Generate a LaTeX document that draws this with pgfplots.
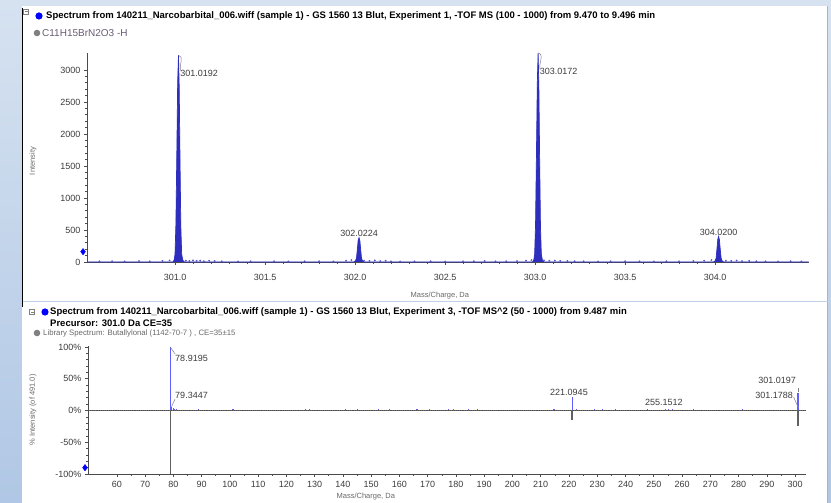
\documentclass[border=0pt]{standalone}
\usepackage{fontspec}
\setmainfont{Liberation Sans}
\usepackage{pgfplots}
\pgfplotsset{compat=1.18}
\definecolor{bgtop}{RGB}{214,226,240}
\definecolor{bgbot}{RGB}{176,199,229}
\definecolor{axgray}{RGB}{75,75,75}
\definecolor{pkblue}{RGB}{45,45,190}
\definecolor{stickblue}{RGB}{95,95,255}
\definecolor{lblgray}{RGB}{60,60,60}
\definecolor{formula}{RGB}{105,92,118}
\definecolor{libgray}{RGB}{105,105,105}
\newcommand\lblfont{\fontsize{9bp}{10bp}\selectfont}
\newcommand\hdfont{\fontsize{9.5bp}{10bp}\selectfont}
\pgfplotsset{
  msaxis/.style={
    scale only axis, clip=false,
    axis x line*=bottom, axis y line*=left,
    axis line style={axgray, line width=0.9bp},
    tick style={axgray, line width=0.6bp},
    tick align=outside,
    major tick length=3bp, minor tick length=2bp,
    /pgf/number format/assume math mode=true,
    /pgf/number format/1000 sep={},
    ticklabel style={font=\lblfont, text=lblgray},
    label style={font=\fontsize{7.5bp}{8bp}\selectfont, text=libgray},
  }
}
\begin{document}
\begin{tikzpicture}[x=1bp,y=1bp]
\useasboundingbox (0,0) rectangle (831,503);
\shade[top color=bgtop, bottom color=bgbot] (0,0) rectangle (831,503);
\fill[white] (22,202) rectangle (828,497);
\fill[white] (22,0) rectangle (828,200.5);
\draw[black, line width=0.8bp] (22.4,196) -- (22.4,495);
\draw[gray!60, line width=0.8bp] (827.6,202) -- (827.6,497);
\draw[gray!60, line width=0.8bp] (827.6,0) -- (827.6,200.5);
\draw[gray, line width=0.4bp] (23.5,489) rectangle (28.5,494); \draw[gray, line width=0.5bp] (24.5,491.5) -- (27.5,491.5);
\draw[gray, line width=0.4bp] (29.5,188.5) rectangle (34.5,193.5); \draw[gray, line width=0.5bp] (30.5,191) -- (33.5,191);
\fill[blue] (39,487) circle (3.6);
\node[anchor=west, inner sep=0, font=\hdfont\bfseries] at (46,487) {Spectrum from 140211\_Narcobarbital\_006.wiff (sample 1) - GS 1560 13 Blut, Experiment 1, -TOF MS (100 - 1000) from 9.470 to 9.496 min};
\fill[gray] (37,470) circle (3.3);
\node[anchor=west, inner sep=0, text=formula, font=\fontsize{10bp}{11bp}\selectfont] at (42,470) {C11H15BrN2O3 -H};
\fill[blue] (45,191) circle (3.6);
\node[anchor=west, inner sep=0, font=\hdfont\bfseries] at (50,191) {Spectrum from 140211\_Narcobarbital\_006.wiff (sample 1) - GS 1560 13 Blut, Experiment 3, -TOF MS\^{}2 (50 - 1000) from 9.487 min};
\node[anchor=west, inner sep=0, font=\hdfont\bfseries] at (50,180) {Precursor: 301.0 Da CE=35};
\fill[gray] (37,170) circle (3.3);
\node[anchor=west, inner sep=0, text=libgray, font=\fontsize{7.8bp}{9bp}\selectfont] at (43,170) {Library Spectrum: Butallylonal (1142-70-7 ) , CE=35±15};

\begin{axis}[msaxis,
  at={(87bp,241bp)}, anchor=south west,
  width=721.6bp, height=209bp,
  xmin=300.511, xmax=304.52, ymin=0, ymax=3265,
  xtick={301,301.5,302,302.5,303,303.5,304}, minor x tick num=4,
  ytick={0,500,1000,1500,2000,2500,3000}, minor y tick num=4,
  xticklabel style={/pgf/number format/fixed, /pgf/number format/fixed zerofill, /pgf/number format/precision=1, yshift=-6bp},
  xlabel={Mass/Charge, Da},
  xlabel style={at={(axis description cs:0.489,-0.163)}, anchor=center},
  ylabel={Intensity},
  ylabel style={at={(axis description cs:-0.075,0.483)}, anchor=center},
]
\addplot[pkblue, fill=pkblue, line width=0.7bp] table {
300.511 0
300.988 0
300.995 30
301.0 120
301.005 600
301.010 1700
301.0147 2800
301.0192 3230
301.0232 2750
301.0277 1600
301.0322 560
301.037 120
301.043 30
301.051 0
301.993 0
302.002 15
302.008 60
302.013 200
302.0175 340
302.0224 380
302.027 330
302.0315 190
302.036 60
302.042 15
302.050 0
302.986 0
302.993 30
302.998 120
303.003 600
303.008 1700
303.0127 2800
303.0172 3265
303.0212 2780
303.0257 1620
303.0302 570
303.035 120
303.041 30
303.049 0
303.991 0
304.000 15
304.006 60
304.011 210
304.0155 355
304.0200 400
304.0245 345
304.029 200
304.034 60
304.040 15
304.048 0
304.52 0
};
\addplot[only marks, mark=*, mark size=0.7bp, color=pkblue!80, mark options={draw=none}] table {
300.58 10
300.65 12
300.72 8
300.80 15
300.86 10
300.93 18
300.97 25
301.06 20
301.08 15
301.10 25
301.12 18
301.14 22
301.16 12
301.19 20
301.22 15
301.26 10
301.35 8
301.42 10
301.55 12
301.63 8
301.72 10
301.80 12
301.88 8
301.95 20
301.98 30
302.05 20
302.08 18
302.11 25
302.14 15
302.17 20
302.20 10
302.25 8
302.33 10
302.42 12
302.50 8
302.60 10
302.66 12
302.72 15
302.78 10
302.84 12
302.90 15
302.95 20
302.98 30
303.05 25
303.08 20
303.11 22
303.14 18
303.18 15
303.22 12
303.27 10
303.35 8
303.42 10
303.50 12
303.58 10
303.66 8
303.73 12
303.80 10
303.88 15
303.94 20
303.98 30
304.06 20
304.09 18
304.12 22
304.15 15
304.19 18
304.23 12
304.28 10
304.35 8
304.42 12
304.48 8
};
\addplot[only marks, mark=diamond*, mark size=3.2bp, color=blue] coordinates {(300.489,161)};
\draw[gray, line width=0.5bp] (axis cs:301.0192,3230) to[out=-10,in=100] (axis cs:301.029,2990);
\draw[gray, line width=0.5bp] (axis cs:303.0172,3265) to[out=-10,in=100] (axis cs:303.027,3010);
\node[anchor=west, inner sep=0, text=lblgray, font=\lblfont] at (axis cs:301.029,2950) {301.0192};
\node[anchor=west, inner sep=0, text=lblgray, font=\lblfont] at (axis cs:303.026,2970) {303.0172};
\node[anchor=south, inner sep=0, text=lblgray, font=\lblfont] at (axis cs:302.0224,395) {302.0224};
\node[anchor=south, inner sep=0, text=lblgray, font=\lblfont] at (axis cs:304.020,410) {304.0200};
\end{axis}

\begin{axis}[msaxis,
  at={(88bp,29bp)}, anchor=south west,
  width=717.8bp, height=128.3bp,
  xmin=49.8, xmax=303.8, ymin=-100, ymax=102,
  xtick={60,70,80,90,100,110,120,130,140,150,160,170,180,190,200,210,220,230,240,250,260,270,280,290,300}, minor x tick num=1,
  ytick={-100,-50,0,50,100}, minor y tick num=4,
  yticklabels={-100\%,-50\%,0\%,50\%,100\%},
  xticklabel style={yshift=-1bp},
  xlabel={Mass/Charge, Da},
  xlabel style={at={(axis description cs:0.387,-0.179)}, anchor=center},
  ylabel={\% Intensity (of 491.0)},
  ylabel style={at={(axis description cs:-0.0766,0.5)}, anchor=center},
]
\addplot[gray!85!black, line width=0.5bp] coordinates {(49.8,0) (303.8,0)};
\addplot[black!70, densely dotted, line width=0.9bp] coordinates {(49.8,0) (303.8,0)};
\addplot[ycomb, color=gray!75!black, line width=1.4bp] table {
79.0 -100
221.0 -15
301.0 -25
};
\addplot[ycomb, color=stickblue, line width=1.1bp] table {
78.9195 100
79.3447 6
79.9 4
80.5 3
81.2 2.5
89.0 2.5
101.1 2.5
126.9 2.5
128.3 2.5
140.8 2.5
145.1 2.5
152.6 2.5
156.5 2.5
166.2 2.5
170.7 2.5
177.3 2
179.0 2
184.3 3
187.7 2.5
214.7 2.5
221.0945 20.5
222.5 2.5
229.0 2.5
232.0 2.5
236.5 2.5
247.8 2.5
254.1 2.5
255.1512 3
256.6 2.5
264.0 2.5
281.4 2.5
301.0197 27
301.1788 3
};
\addplot[only marks, mark=diamond*, mark size=3.2bp, color=blue] coordinates {(48.74,-90)};
\draw[gray, line width=0.5bp] (axis cs:78.92,100) -- (axis cs:80.6,89);
\draw[gray, line width=0.5bp] (axis cs:79.34,6) -- (axis cs:80.6,18);
\draw[gray, line width=0.5bp] (axis cs:301.02,29) -- (axis cs:301.02,36);
\draw[gray, line width=0.5bp] (axis cs:299.5,21) -- (axis cs:301.18,4);
\node[anchor=west, inner sep=0, text=lblgray, font=\lblfont] at (axis cs:80.6,82.7) {78.9195};
\node[anchor=west, inner sep=0, text=lblgray, font=\lblfont] at (axis cs:80.6,24.4) {79.3447};
\node[inner sep=0, text=lblgray, font=\lblfont] at (axis cs:220.0,29) {221.0945};
\node[inner sep=0, text=lblgray, font=\lblfont] at (axis cs:253.6,13.4) {255.1512};
\node[anchor=east, inner sep=0, text=lblgray, font=\lblfont] at (axis cs:300.4,48) {301.0197};
\node[anchor=east, inner sep=0, text=lblgray, font=\lblfont] at (axis cs:299.3,23) {301.1788};
\end{axis}
\end{tikzpicture}
\end{document}
